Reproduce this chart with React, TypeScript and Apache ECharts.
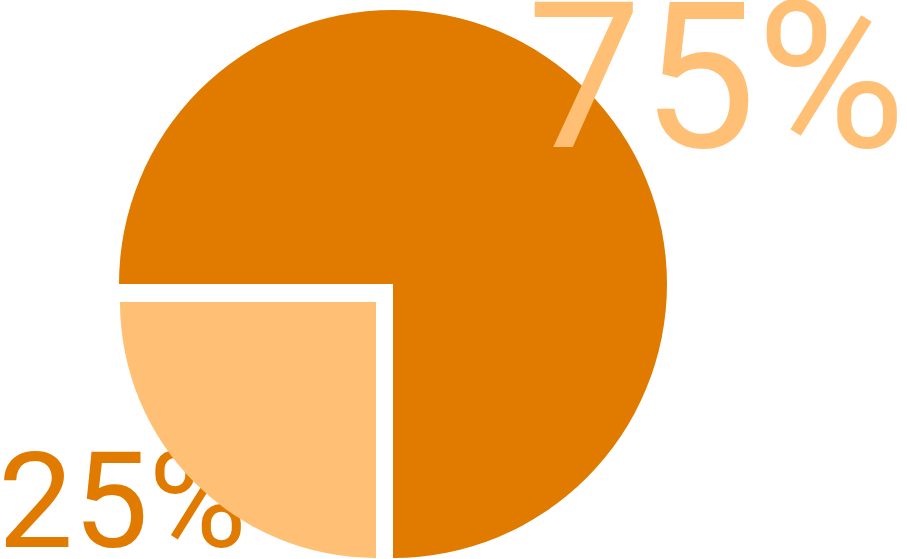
import React, { useEffect, useRef } from "react";
import * as echarts from "echarts";

const categories = ["Share A", "Share B"];
const values = [75, 25];
const labels = ["75%", "25%"];
const sliceColors = ["#E07B00", "#FFBF75"];
const labelColors = ["#FFBF75", "#E07B00"];

export default function App() {
  const ref = useRef<HTMLDivElement>(null);
  useEffect(() => {
    document.body.style.margin = "0";
    if (!ref.current) return;
    const chart = echarts.init(ref.current, undefined, { renderer: "svg" });
    const mk = (visibleIdx: number) =>
      values.map((v, i) => ({
        value: v,
        name: categories[i],
        itemStyle: { color: i === visibleIdx ? sliceColors[i] : "rgba(0,0,0,0)" },
      }));
    chart.setOption({
      animation: false,
      graphic: [
        {
          type: "text",
          x: 527,
          y: 2,
          z: 10,
          style: {
            text: labels[0],
            fill: labelColors[0],
            font: "204px Roboto",
            lineHeight: 150,
            verticalAlign: "top",
          },
        },
        {
          type: "text",
          x: -2,
          y: 451,
          z: 1,
          style: {
            text: labels[1],
            fill: labelColors[1],
            font: "134px Roboto",
            lineHeight: 100,
            verticalAlign: "top",
          },
        },
      ],
      series: [
        {
          type: "pie",
          z: 2,
          center: [393, 284],
          radius: 274,
          startAngle: 180,
          clockwise: true,
          silent: true,
          label: { show: false },
          labelLine: { show: false },
          data: mk(0),
        },
        {
          type: "pie",
          z: 3,
          center: [376, 302],
          radius: 256,
          startAngle: 180,
          clockwise: true,
          silent: true,
          label: { show: false },
          labelLine: { show: false },
          data: mk(1),
        },
      ],
    });
    return () => chart.dispose();
  }, []);
  return <div ref={ref} style={{ width: 907, height: 559 }} />;
}
